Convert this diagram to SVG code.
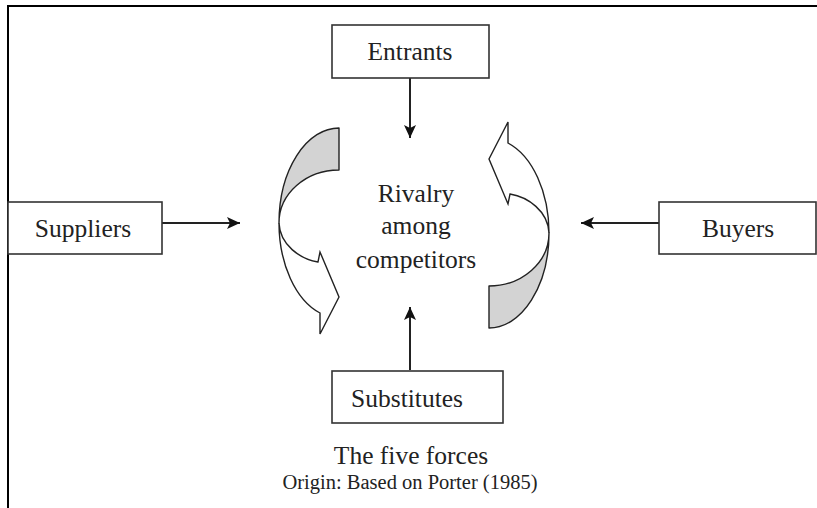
<svg xmlns="http://www.w3.org/2000/svg" width="817" height="508" viewBox="0 0 817 508">
<style>
.box{fill:#fff;stroke:#333;stroke-width:1.6}
.t{font-family:"Liberation Serif","Times New Roman",serif;font-size:25.5px;fill:#222;text-anchor:middle}
.cap{font-family:"Liberation Serif","Times New Roman",serif;font-size:20.5px;fill:#222;text-anchor:middle}
.conn{stroke:#222;stroke-width:2;fill:none}
.band{fill:#d3d3d3;stroke:#222;stroke-width:1.4;stroke-linejoin:round}
.white{fill:#fff;stroke:#222;stroke-width:1.4;stroke-linejoin:miter}
.frame{stroke:#000;fill:none}
</style>
<defs>
<marker id="ah" viewBox="0 0 13 12" refX="13" refY="6" markerWidth="13" markerHeight="12" markerUnits="userSpaceOnUse" orient="auto">
<path d="M0,0 L13,6 L0,12 L3,6 z" fill="#111"/>
</marker>
</defs>
<rect width="817" height="508" fill="#fff"/>
<g id="frame">
<line class="frame" x1="7" y1="6" x2="817" y2="6" stroke-width="2.2"/>
<line class="frame" x1="8" y1="5" x2="8" y2="508" stroke-width="2"/>
</g>
<g id="connectors">
<line class="conn" x1="410" y1="78" x2="410" y2="138" marker-end="url(#ah)"/>
<line class="conn" x1="410" y1="370" x2="410" y2="307" marker-end="url(#ah)"/>
<line class="conn" x1="162" y1="223" x2="240" y2="223" marker-end="url(#ah)"/>
<line class="conn" x1="659" y1="223" x2="581" y2="223" marker-end="url(#ah)"/>
</g>
<g id="cycle-left">
<path class="band" d="M339,128 A60,95 0 0,0 279,223 A60,53 0 0,1 339,170 Z"/>
<path class="white" d="M279,223 A60,95 0 0,0 320,313 L320,334 L339,297 L320,252 L318,262 C300,259 280,245 279,223 Z"/>
</g>
<g id="cycle-right" transform="rotate(180 414 228)">
<path class="band" d="M339,128 A60,95 0 0,0 279,223 A60,53 0 0,1 339,170 Z"/>
<path class="white" d="M279,223 A60,95 0 0,0 320,313 L320,334 L339,297 L320,252 L318,262 C300,259 280,245 279,223 Z"/>
</g>
<g id="entrants">
<rect class="box" x="332" y="25" width="157" height="53"/>
<text class="t" x="410" y="60">Entrants</text>
</g>
<g id="suppliers">
<rect class="box" x="8" y="202" width="154" height="52"/>
<text class="t" x="83" y="237">Suppliers</text>
</g>
<g id="buyers">
<rect class="box" x="659" y="202" width="157" height="52"/>
<text class="t" x="738" y="237">Buyers</text>
</g>
<g id="substitutes">
<rect class="box" x="332" y="371" width="171" height="52"/>
<text class="t" x="407" y="407">Substitutes</text>
</g>
<g id="rivalry">
<text class="t" x="416" y="202">Rivalry</text>
<text class="t" x="416" y="234">among</text>
<text class="t" x="416" y="267.5">competitors</text>
</g>
<g id="caption">
<text class="t" x="411" y="464">The five forces</text>
<text class="cap" x="410" y="489">Origin: Based on Porter (1985)</text>
</g>
</svg>
